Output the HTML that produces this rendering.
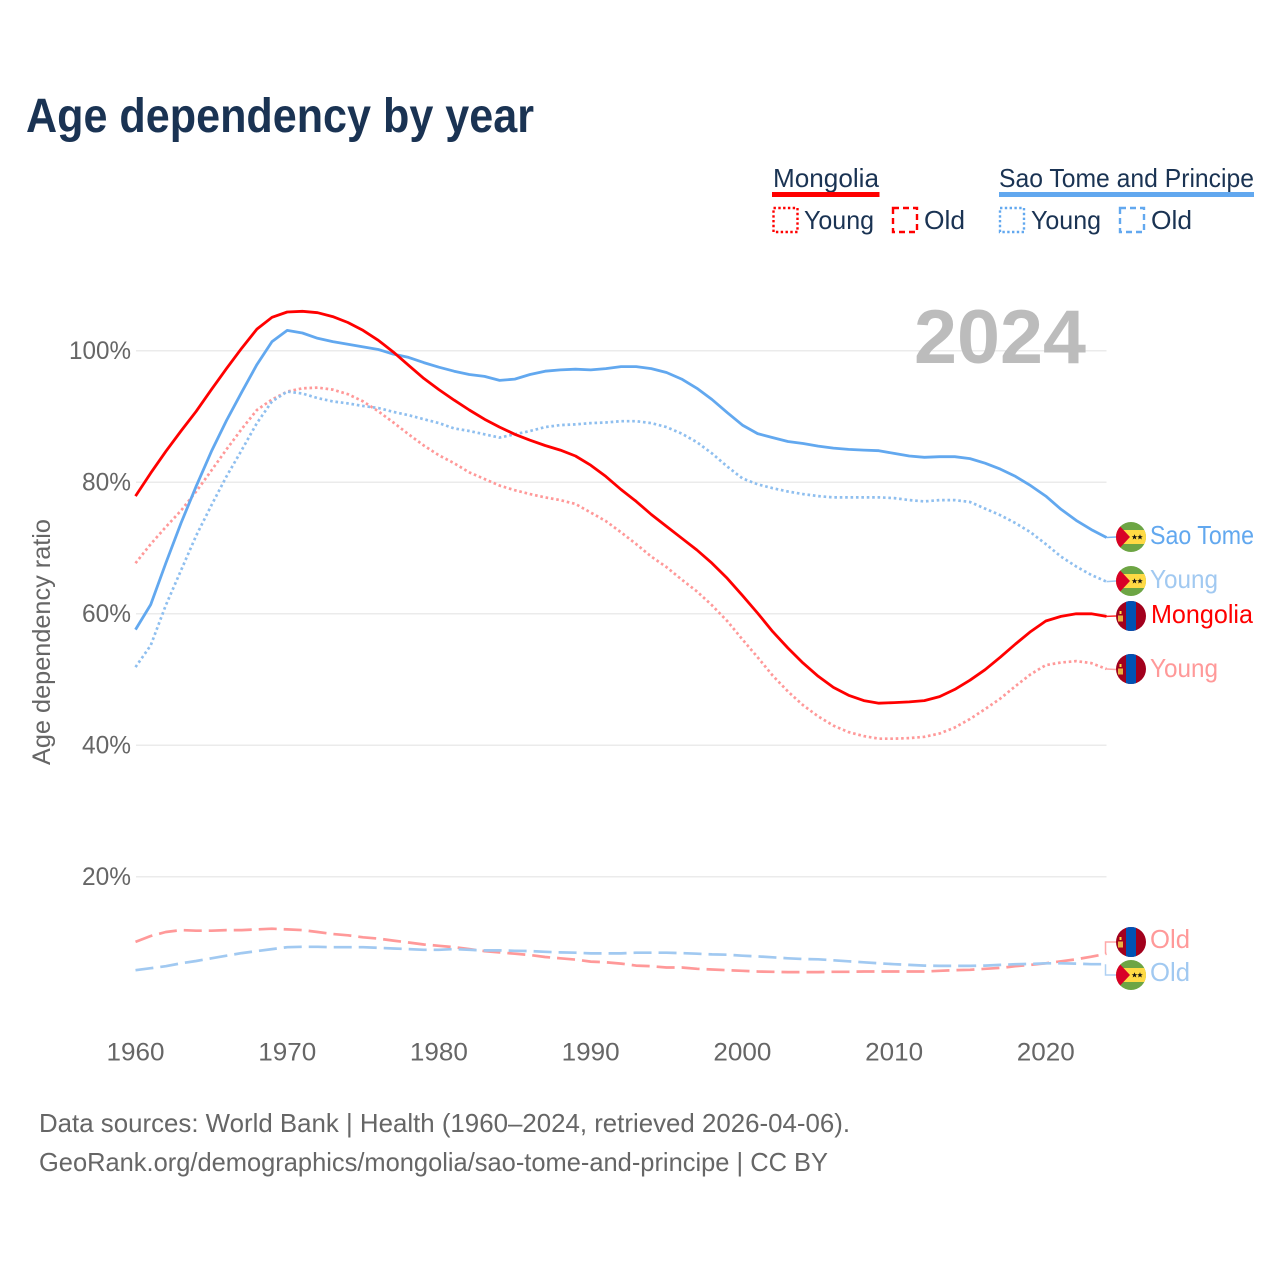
<!DOCTYPE html>
<html lang="en">
<head>
<meta charset="utf-8">
<title>Age dependency by year</title>
<style>
html,body{margin:0;padding:0;background:#fff;}
svg{display:block;font-family:"Liberation Sans",sans-serif;}
</style>
</head>
<body>
<svg id="chart" xmlns="http://www.w3.org/2000/svg" width="1280" height="1280" viewBox="0 0 1280 1280">
  <defs>
    <clipPath id="flag-clip"><circle cx="0" cy="0" r="15"/></clipPath>
    <symbol id="flag-mn" overflow="visible" viewBox="-15 -15 30 30" width="30" height="30">
      <g clip-path="url(#flag-clip)">
        <rect x="-15" y="-15" width="30" height="30" fill="#a2001d"/>
        <rect x="-5" y="-15" width="10" height="30" fill="#0052b4"/>
        <rect x="-13" y="-0.500" width="5" height="6" fill="#e8b040"/>
        <rect x="-11.500" y="-5" width="2" height="3" fill="#ffda44"/>
      </g>
    </symbol>
    <symbol id="flag-st" overflow="visible" viewBox="-15 -15 30 30" width="30" height="30">
      <g clip-path="url(#flag-clip)">
        <rect x="-15" y="-15" width="30" height="30" fill="#6da544"/>
        <rect x="-15" y="-7" width="30" height="14" fill="#ffda44"/>
        <polygon points="-15,-15 -1,0 -15,15" fill="#d80027"/>
        <polygon points="3.500,-2.800 4.300,-0.800 6.300,-0.800 4.700,0.500 5.300,2.500 3.500,1.300 1.700,2.500 2.300,0.500 0.700,-0.800 2.700,-0.800" fill="#111"/>
        <polygon points="9,-2.800 9.800,-0.800 11.800,-0.800 10.200,0.500 10.800,2.500 9,1.300 7.200,2.500 7.800,0.500 6.200,-0.800 8.200,-0.800" fill="#111"/>
      </g>
    </symbol>
  </defs>

  <text x="26" y="132" font-size="48" font-weight="700" fill="#1a3353" textLength="508" lengthAdjust="spacingAndGlyphs">Age dependency by year</text>

  <g font-size="26" fill="#1a3353">
    <text x="773" y="187" textLength="106" lengthAdjust="spacingAndGlyphs">Mongolia</text>
    <rect x="772" y="192" width="107.500" height="5" fill="#ff0000"/>
    <rect x="773.500" y="208" width="24" height="24" fill="none" stroke="#ff0000" stroke-width="2.400" stroke-dasharray="2.400 2.400"/>
    <text x="804" y="229" textLength="70" lengthAdjust="spacingAndGlyphs">Young</text>
    <rect x="893" y="208" width="24" height="24" fill="none" stroke="#ff0000" stroke-width="2.400" stroke-dasharray="6 4"/>
    <text x="924" y="229" textLength="41" lengthAdjust="spacingAndGlyphs">Old</text>
    <text x="999" y="187" textLength="255" lengthAdjust="spacingAndGlyphs">Sao Tome and Principe</text>
    <rect x="999" y="192" width="255" height="5" fill="#62a8ef"/>
    <rect x="1000" y="208" width="24" height="24" fill="none" stroke="#62a8ef" stroke-width="2.400" stroke-dasharray="2.400 2.400"/>
    <text x="1031" y="229" textLength="70" lengthAdjust="spacingAndGlyphs">Young</text>
    <rect x="1120" y="208" width="24" height="24" fill="none" stroke="#62a8ef" stroke-width="2.400" stroke-dasharray="6 4"/>
    <text x="1151" y="229" textLength="41" lengthAdjust="spacingAndGlyphs">Old</text>
  </g>

  <g id="grid"></g>
  <text x="914" y="363" font-size="76" font-weight="700" fill="#bcbcbc" textLength="172" lengthAdjust="spacingAndGlyphs">2024</text>
  <g id="y-ticks" font-size="25" fill="#666"></g>
  <g id="x-ticks" font-size="25" fill="#666"></g>
  <text transform="translate(50,642) rotate(-90)" text-anchor="middle" font-size="25" fill="#666" textLength="246" lengthAdjust="spacingAndGlyphs">Age dependency ratio</text>
  <g id="lines"></g>

  <g font-size="26">
    <use href="#flag-st" x="1116" y="522"/>
    <text x="1150" y="544" fill="#62a8ef" textLength="104" lengthAdjust="spacingAndGlyphs">Sao Tome</text>
    <use href="#flag-st" x="1116" y="566"/>
    <text x="1150" y="588" fill="#a1c9f1" textLength="68" lengthAdjust="spacingAndGlyphs">Young</text>
    <use href="#flag-mn" x="1116" y="601"/>
    <text x="1151" y="623" fill="#ff0000" textLength="102" lengthAdjust="spacingAndGlyphs">Mongolia</text>
    <use href="#flag-mn" x="1116" y="654"/>
    <text x="1150" y="677" fill="#ff9999" textLength="68" lengthAdjust="spacingAndGlyphs">Young</text>
    <use href="#flag-mn" x="1116" y="927"/>
    <text x="1150" y="948" fill="#ff9999" textLength="40" lengthAdjust="spacingAndGlyphs">Old</text>
    <use href="#flag-st" x="1116" y="960"/>
    <text x="1150" y="981" fill="#a1c9f1" textLength="40" lengthAdjust="spacingAndGlyphs">Old</text>
  </g>

  <text x="39" y="1132" font-size="26" fill="#666" textLength="811" lengthAdjust="spacingAndGlyphs">Data sources: World Bank | Health (1960–2024, retrieved 2026-04-06).</text>
  <text x="39" y="1171" font-size="26" fill="#666" textLength="789" lengthAdjust="spacingAndGlyphs">GeoRank.org/demographics/mongolia/sao-tome-and-principe | CC BY</text>
</svg>
<script>
const startYear = 1960;
const xTickYears = [1960, 1970, 1980, 1990, 2000, 2010, 2020];
const yTickValues = [20, 40, 60, 80, 100];
const yTickLabels = ["20%", "40%", "60%", "80%", "100%"];
const xTickLabels = ["1960", "1970", "1980", "1990", "2000", "2010", "2020"];

const mongoliaTotal = [77.9,81.4,84.7,87.8,90.8,94.1,97.3,100.4,103.3,105.1,105.9,106,105.8,105.2,104.3,103.1,101.6,99.8,97.8,95.8,94.1,92.5,91,89.6,88.4,87.3,86.4,85.6,84.9,84,82.6,80.9,78.9,77.1,75.1,73.3,71.5,69.7,67.7,65.4,62.8,60.1,57.3,54.8,52.5,50.5,48.8,47.6,46.8,46.4,46.5,46.6,46.8,47.4,48.5,49.9,51.5,53.4,55.4,57.3,58.9,59.6,60,60,59.6];
const saoTomeTotal = [57.6,61.4,67.7,73.8,79.4,84.7,89.4,93.7,97.9,101.4,103.1,102.7,101.9,101.4,101,100.6,100.2,99.5,99,98.2,97.5,96.9,96.4,96.1,95.5,95.7,96.4,96.9,97.1,97.2,97.1,97.3,97.6,97.6,97.3,96.7,95.7,94.3,92.6,90.6,88.7,87.4,86.8,86.2,85.9,85.5,85.2,85,84.9,84.8,84.4,84,83.8,83.9,83.9,83.6,82.9,82,80.9,79.5,77.9,75.9,74.2,72.8,71.6];
const mongoliaYoung = [67.7,70.6,73.2,75.7,78.6,81.8,85,88.1,91,92.6,93.8,94.3,94.4,94.1,93.4,92.3,90.8,89.1,87.3,85.6,84.1,82.9,81.5,80.5,79.5,78.8,78.2,77.7,77.3,76.7,75.4,74.1,72.4,70.6,68.7,67.1,65.2,63.4,61.3,58.9,56.1,53.4,50.6,48.2,46.1,44.4,43,42,41.4,41,41,41.1,41.3,41.8,42.7,44,45.5,47.1,49,50.8,52.2,52.6,52.8,52.5,51.6];
const saoTomeYoung = [51.9,55.2,61.3,66.6,71.9,76.5,80.9,84.9,89,92.3,93.8,93.5,92.8,92.3,92,91.6,91.3,90.7,90.2,89.6,89,88.2,87.8,87.3,86.8,87.3,87.8,88.4,88.7,88.8,89,89.1,89.3,89.3,89,88.4,87.4,86.1,84.4,82.4,80.6,79.7,79.1,78.6,78.2,77.9,77.7,77.7,77.7,77.7,77.6,77.3,77.1,77.3,77.3,77,76,75,73.8,72.4,70.6,68.7,67.2,65.9,64.9];
const mongoliaOld = [10.1,11,11.6,11.9,11.8,11.8,11.9,11.9,12,12.1,12,11.9,11.6,11.3,11.1,10.8,10.6,10.3,10,9.7,9.5,9.3,9,8.7,8.5,8.3,8.1,7.8,7.6,7.4,7.1,7,6.8,6.5,6.4,6.2,6.2,6,5.9,5.8,5.7,5.6,5.55,5.5,5.5,5.5,5.55,5.55,5.6,5.6,5.6,5.6,5.6,5.7,5.8,5.85,6,6.15,6.4,6.6,6.85,7.15,7.45,7.85,8.3];
const saoTomeOld = [5.8,6.1,6.4,6.85,7.2,7.6,8,8.4,8.7,9,9.3,9.35,9.35,9.3,9.3,9.3,9.2,9.1,9,8.9,8.9,9,8.9,8.8,8.8,8.75,8.7,8.6,8.5,8.45,8.35,8.35,8.35,8.45,8.45,8.45,8.4,8.3,8.2,8.15,8,7.9,7.75,7.6,7.5,7.45,7.3,7.15,7,6.85,6.7,6.6,6.5,6.45,6.45,6.45,6.5,6.6,6.7,6.75,6.85,6.85,6.8,6.7,6.7];

const NS = "http://www.w3.org/2000/svg";
function xScale(year) { return 135.5 + (year - 1960) * 15.172; }
function yScale(value) { return 1008.3 - value * 6.575; }

function addText(parent, x, y, str, anchor, width) {
  const t = document.createElementNS(NS, "text");
  t.setAttribute("x", x);
  t.setAttribute("y", y);
  t.setAttribute("text-anchor", anchor);
  t.setAttribute("textLength", width);
  t.setAttribute("lengthAdjust", "spacingAndGlyphs");
  t.textContent = str;
  parent.appendChild(t);
  return t;
}

const gridGroup = document.getElementById("grid");
const yTicksGroup = document.getElementById("y-ticks");
yTickValues.forEach(function (v, i) {
  const y = yScale(v);
  const line = document.createElementNS(NS, "line");
  line.setAttribute("x1", 136);
  line.setAttribute("x2", xScale(2024));
  line.setAttribute("y1", y);
  line.setAttribute("y2", y);
  line.setAttribute("stroke", "#ebebeb");
  line.setAttribute("stroke-width", "1.5");
  
  
  gridGroup.appendChild(line);
  const label = addText(yTicksGroup, 131, y + 8, yTickLabels[i], "end", yTickLabels[i].length === 4 ? 62 : 49);
  
  
});

const xTicksGroup = document.getElementById("x-ticks");
xTickYears.forEach(function (yr, i) {
  const label = addText(xTicksGroup, xScale(yr), 1060.5, xTickLabels[i], "middle", 58);
  
  
});

const linesGroup = document.getElementById("lines");
function drawSeries(values, color, width, dash, flagY, name) {
  const pts = values.map(function (v, i) {
    return xScale(startYear + i).toFixed(1) + "," + yScale(v).toFixed(1);
  });
  const path = document.createElementNS(NS, "polyline");
  path.setAttribute("points", pts.join(" "));
  path.setAttribute("fill", "none");
  path.setAttribute("stroke", color);
  path.setAttribute("stroke-width", width);
  path.setAttribute("stroke-linejoin", "round");
  if (dash) path.setAttribute("stroke-dasharray", dash);
  
  
  linesGroup.appendChild(path);

  const endX = xScale(startYear + values.length - 1);
  const endY = yScale(values[values.length - 1]);
  const link = document.createElementNS(NS, "polyline");
  const stepped = Math.abs(endY - flagY) > 3;
  const linkPts = stepped
    ? [endX - 1, endY, endX - 1, flagY, 1116, flagY]
    : [endX, endY, 1116, flagY];
  link.setAttribute("points", linkPts.join(" "));
  link.setAttribute("fill", "none");
  link.setAttribute("stroke", color);
  link.setAttribute("stroke-width", "1.5");
  link.setAttribute("opacity", "0.85");
  
  
  linesGroup.appendChild(link);
}

drawSeries(mongoliaOld, "#ff9999", 2.7, "18 7", 942, "line-mongolia-old");
drawSeries(saoTomeOld, "#a1c9f1", 2.7, "18 7", 975, "line-sao-tome-old");
drawSeries(mongoliaYoung, "#ff9999", 2.7, "2.6 2.8", 669.5, "line-mongolia-young");
drawSeries(saoTomeYoung, "#8fbfef", 2.7, "2.6 2.8", 581, "line-sao-tome-young");
drawSeries(saoTomeTotal, "#62a8ef", 2.8, "", 537, "line-sao-tome-total");
drawSeries(mongoliaTotal, "#ff0000", 2.8, "", 616, "line-mongolia-total");
</script>
</body>
</html>
